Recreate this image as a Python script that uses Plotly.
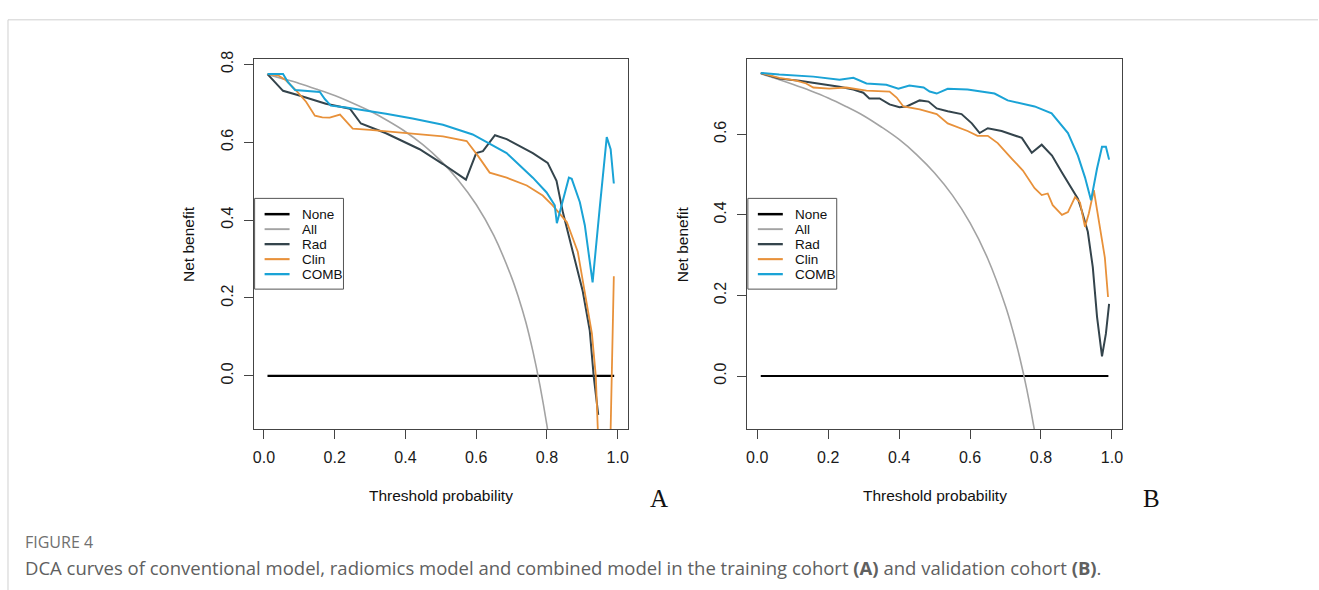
import plotly.graph_objects as go

# ---------------- data ----------------
series_names = ["None", "All", "Rad", "Clin", "COMB"]

# Panel A (training cohort)
a_none_x = [0.01, 0.99]
a_none_y = [0.0, 0.0]
a_all_x = [0.01, 0.05, 0.1, 0.15, 0.2, 0.25, 0.3, 0.35, 0.4, 0.45, 0.5, 0.55, 0.6, 0.65, 0.7, 0.72, 0.74, 0.76, 0.78, 0.8, 0.82]
a_all_y = [0.774, 0.764, 0.751, 0.736, 0.720, 0.701, 0.680, 0.655, 0.627, 0.593, 0.552, 0.502, 0.440, 0.360, 0.253, 0.200, 0.139, 0.064, -0.024, -0.128, -0.250]
a_rad_x = [0.01, 0.054, 0.1, 0.175, 0.243, 0.274, 0.345, 0.44, 0.506, 0.571, 0.60, 0.619, 0.653, 0.686, 0.76, 0.802, 0.827, 0.845, 0.873, 0.901, 0.921, 0.932, 0.945]
a_rad_y = [0.775, 0.732, 0.72, 0.699, 0.686, 0.648, 0.623, 0.582, 0.544, 0.504, 0.572, 0.577, 0.618, 0.608, 0.572, 0.547, 0.501, 0.42, 0.319, 0.218, 0.116, 0.0, -0.1]
a_clin_x = [0.01, 0.04, 0.062, 0.09, 0.119, 0.144, 0.165, 0.186, 0.215, 0.235, 0.251, 0.3, 0.345, 0.42, 0.506, 0.573, 0.605, 0.638, 0.686, 0.743, 0.788, 0.816, 0.856, 0.887, 0.907, 0.927, 0.938, 0.946, 0.963, 0.98, 0.989]
a_clin_y = [0.775, 0.772, 0.759, 0.734, 0.704, 0.668, 0.664, 0.663, 0.671, 0.65, 0.635, 0.632, 0.628, 0.622, 0.615, 0.603, 0.565, 0.522, 0.509, 0.489, 0.463, 0.438, 0.395, 0.319, 0.218, 0.109, 0.0, -0.137, -0.6, -0.137, 0.256]
a_comb_x = [0.01, 0.054, 0.068, 0.088, 0.158, 0.172, 0.189, 0.232, 0.345, 0.42, 0.506, 0.59, 0.686, 0.76, 0.799, 0.822, 0.828, 0.845, 0.862, 0.87, 0.893, 0.907, 0.929, 0.949, 0.969, 0.98, 0.989]
a_comb_y = [0.775, 0.775, 0.754, 0.734, 0.729, 0.711, 0.694, 0.689, 0.673, 0.661, 0.645, 0.62, 0.572, 0.509, 0.471, 0.438, 0.392, 0.45, 0.509, 0.506, 0.446, 0.387, 0.24, 0.43, 0.613, 0.582, 0.494]

# Panel B (validation cohort)
b_none_x = [0.01, 0.99]
b_none_y = [0.0, 0.0]
b_all_x = [0.01, 0.05, 0.1, 0.15, 0.2, 0.25, 0.3, 0.35, 0.4, 0.45, 0.5, 0.55, 0.6, 0.65, 0.7, 0.72, 0.74, 0.76, 0.78, 0.8]
b_all_y = [0.750, 0.739, 0.724, 0.708, 0.690, 0.669, 0.646, 0.618, 0.587, 0.549, 0.504, 0.449, 0.380, 0.291, 0.173, 0.114, 0.046, -0.033, -0.127, -0.240]
b_rad_x = [0.01, 0.062, 0.119, 0.175, 0.232, 0.271, 0.299, 0.316, 0.345, 0.373, 0.401, 0.421, 0.458, 0.483, 0.506, 0.537, 0.576, 0.605, 0.627, 0.65, 0.689, 0.746, 0.774, 0.802, 0.831, 0.859, 0.887, 0.904, 0.915, 0.932, 0.946, 0.958, 0.972, 0.983, 0.992]
b_rad_y = [0.752, 0.738, 0.733, 0.726, 0.718, 0.711, 0.703, 0.689, 0.689, 0.674, 0.667, 0.669, 0.684, 0.681, 0.664, 0.657, 0.65, 0.627, 0.603, 0.615, 0.608, 0.591, 0.554, 0.574, 0.547, 0.505, 0.466, 0.44, 0.41, 0.358, 0.27, 0.147, 0.049, 0.105, 0.179]
b_clin_x = [0.01, 0.062, 0.11, 0.138, 0.158, 0.203, 0.251, 0.308, 0.373, 0.393, 0.412, 0.458, 0.506, 0.537, 0.593, 0.621, 0.65, 0.678, 0.718, 0.749, 0.782, 0.802, 0.819, 0.833, 0.859, 0.876, 0.896, 0.91, 0.924, 0.935, 0.949, 0.966, 0.98, 0.989]
b_clin_y = [0.752, 0.74, 0.733, 0.726, 0.716, 0.713, 0.716, 0.708, 0.706, 0.691, 0.669, 0.662, 0.65, 0.627, 0.608, 0.596, 0.596, 0.578, 0.539, 0.51, 0.466, 0.449, 0.453, 0.424, 0.40, 0.407, 0.444, 0.431, 0.37, 0.404, 0.461, 0.375, 0.294, 0.196]
b_comb_x = [0.01, 0.062, 0.158, 0.232, 0.271, 0.308, 0.364, 0.398, 0.429, 0.469, 0.486, 0.506, 0.537, 0.593, 0.669, 0.706, 0.782, 0.83, 0.876, 0.904, 0.924, 0.941, 0.958, 0.972, 0.983, 0.992]
b_comb_y = [0.752, 0.748, 0.743, 0.735, 0.74, 0.726, 0.723, 0.713, 0.721, 0.716, 0.706, 0.701, 0.713, 0.711, 0.701, 0.684, 0.669, 0.652, 0.603, 0.547, 0.493, 0.436, 0.515, 0.569, 0.569, 0.537]

x_tickvals = [0.0, 0.2, 0.4, 0.6, 0.8, 1.0]
x_ticktext = ["0.0", "0.2", "0.4", "0.6", "0.8", "1.0"]
a_y_tickvals = [0.0, 0.2, 0.4, 0.6, 0.8]
a_y_ticktext = ["0.0", "0.2", "0.4", "0.6", "0.8"]
b_y_tickvals = [0.0, 0.2, 0.4, 0.6]
b_y_ticktext = ["0.0", "0.2", "0.4", "0.6"]

x_title = "Threshold probability"
y_title = "Net benefit"
fig_label = "FIGURE 4"
caption = ("DCA curves of conventional model, radiomics model and combined model in the training cohort "
           "<b>(A)</b> and validation cohort <b>(B)</b>.")

# ---------------- styling ----------------
W, H = 1319, 590
colors = {"None": "#000000", "All": "#A3A3A3", "Rad": "#34444C", "Clin": "#E8913A", "COMB": "#1AA3D6"}
widths = {"None": 2.2, "All": 1.6, "Rad": 2.0, "Clin": 1.8, "COMB": 2.0}
shapes_map = {"None": "linear", "All": "spline", "Rad": "linear", "Clin": "linear", "COMB": "linear"}
FONT = "Liberation Sans, Arial, sans-serif"
AXC = "#444444"


def fx(p):
    return p / W


def fy(p):
    return 1 - p / H


panels = [
    dict(key="A", xaxis="x", yaxis="y", left=253, right=628, top=52, bottom=427,
         yrange=[-0.137, 0.813], ytv=a_y_tickvals, ytt=a_y_ticktext,
         data={"None": (a_none_x, a_none_y), "All": (a_all_x, a_all_y), "Rad": (a_rad_x, a_rad_y),
               "Clin": (a_clin_x, a_clin_y), "COMB": (a_comb_x, a_comb_y)},
         letter_x=659),
    dict(key="B", xaxis="x2", yaxis="y2", left=747, right=1123, top=52, bottom=427,
         yrange=[-0.132, 0.786], ytv=b_y_tickvals, ytt=b_y_ticktext,
         data={"None": (b_none_x, b_none_y), "All": (b_all_x, b_all_y), "Rad": (b_rad_x, b_rad_y),
               "Clin": (b_clin_x, b_clin_y), "COMB": (b_comb_x, b_comb_y)},
         letter_x=1152),
]

fig = go.Figure()
annotations = []
shapes = []

for i, p in enumerate(panels):
    for name in series_names:
        xs, ys = p["data"][name]
        fig.add_trace(go.Scatter(
            x=xs, y=ys, mode="lines", name=name, showlegend=False,
            line=dict(color=colors[name], width=widths[name], shape=shapes_map[name]),
            xaxis=p["xaxis"], yaxis=p["yaxis"], hoverinfo="skip"))

    sfx = "" if i == 0 else "2"
    xdom = [fx(p["left"]), fx(p["right"])]
    ydom = [fy(p["bottom"]), fy(p["top"])]
    common = dict(showline=True, linecolor=AXC, linewidth=1, mirror=True, ticks="outside",
                  ticklen=9, tickwidth=1, tickcolor=AXC, showgrid=False, zeroline=False,
                  tickfont=dict(family=FONT, size=16, color="#1a1a1a"))
    fig.update_layout(**{
        "xaxis" + sfx: dict(domain=xdom, range=[-0.0292, 1.0292], tickvals=x_tickvals,
                            ticktext=x_ticktext, anchor="y" + sfx, ticklabelstandoff=5, **common),
        "yaxis" + sfx: dict(domain=ydom, range=p["yrange"], tickvals=p["ytv"], ticktext=p["ytt"],
                            anchor="x" + sfx, tickangle=-90, ticklabelstandoff=4, **common),
    })

    cx = (p["left"] + p["right"]) / 2
    cy = (p["top"] + p["bottom"]) / 2
    annotations.append(dict(text=x_title, x=fx(cx), y=fy(494), xref="paper", yref="paper",
                            showarrow=False, xanchor="center", yanchor="middle",
                            font=dict(family=FONT, size=15.5, color="#111")))
    annotations.append(dict(text=y_title, x=fx(p["left"] - 65), y=fy(cy), xref="paper", yref="paper",
                            showarrow=False, xanchor="center", yanchor="middle", textangle=-90,
                            font=dict(family=FONT, size=15.5, color="#111")))
    annotations.append(dict(text=p["key"], x=fx(p["letter_x"]), y=fy(497), xref="paper", yref="paper",
                            showarrow=False, xanchor="center", yanchor="middle",
                            font=dict(family="Liberation Serif, Times New Roman, serif", size=25, color="#111")))

    # legend box (drawn like R's legend)
    lx0 = p["left"] + 1
    ly0 = 193
    shapes.append(dict(type="rect", xref="paper", yref="paper", x0=fx(lx0), x1=fx(lx0 + 89),
                       y0=fy(ly0 + 92), y1=fy(ly0), line=dict(color="#555", width=1),
                       fillcolor="white", layer="above"))
    for j, name in enumerate(series_names):
        yy = ly0 + 16 + j * 15.2
        shapes.append(dict(type="line", xref="paper", yref="paper", x0=fx(lx0 + 10), x1=fx(lx0 + 35),
                           y0=fy(yy), y1=fy(yy), line=dict(color=colors[name], width=widths[name] + 0.3),
                           layer="above"))
        annotations.append(dict(text=name, x=fx(lx0 + 45), y=fy(yy), xref="paper", yref="paper",
                                showarrow=False, xanchor="left", yanchor="middle",
                                font=dict(family=FONT, size=13.5, color="#111")))

# page frame + caption
shapes.append(dict(type="line", xref="paper", yref="paper", x0=fx(7), x1=1, y0=fy(12), y1=fy(12),
                   line=dict(color="#d0d0d0", width=1)))
shapes.append(dict(type="line", xref="paper", yref="paper", x0=fx(7), x1=fx(7), y0=fy(12), y1=0,
                   line=dict(color="#d0d0d0", width=1)))
annotations.append(dict(text=fig_label, x=fx(22), y=fy(541), xref="paper", yref="paper", showarrow=False,
                        xanchor="left", yanchor="middle",
                        font=dict(family="Open Sans, Noto Sans, sans-serif", size=16, color="#707070")))
annotations.append(dict(text=caption, x=fx(22), y=fy(567), xref="paper", yref="paper", showarrow=False,
                        xanchor="left", yanchor="middle",
                        font=dict(family="Open Sans, Noto Sans, sans-serif", size=18.5, color="#606060")))

fig.update_layout(width=W, height=H, margin=dict(l=0, r=0, t=0, b=0), paper_bgcolor="white",
                  plot_bgcolor="white", showlegend=False, annotations=annotations, shapes=shapes)

fig.write_html("out.html")
